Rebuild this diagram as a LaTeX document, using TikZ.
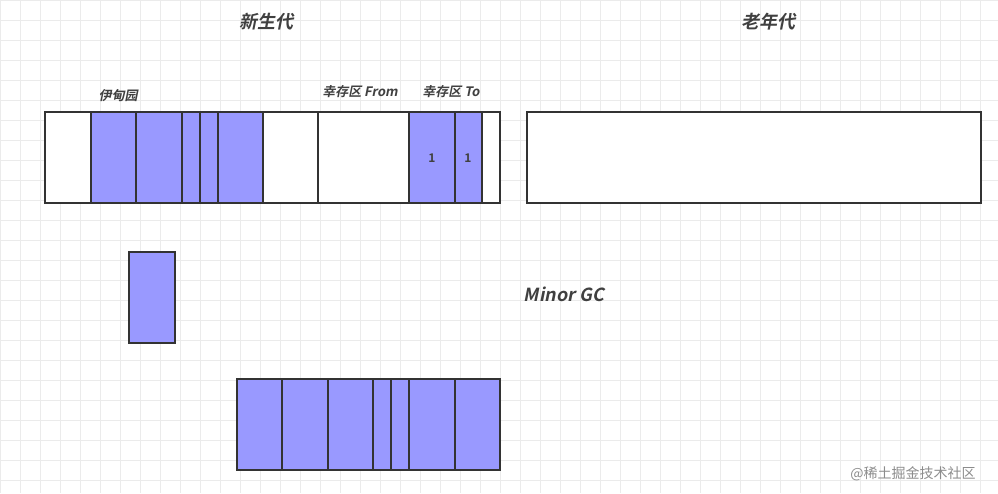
\documentclass[tikz,border=0pt]{standalone}
\usepackage{fontspec}
\setmainfont{Noto Sans CJK SC}
\newfontfamily\slb{Noto Sans CJK SC Bold}[FakeSlant=0.2]
\newfontfamily\bld{Noto Sans CJK SC Bold}
\newfontfamily\cjk{Noto Sans CJK SC}
\definecolor{blk}{HTML}{9999FF}
\definecolor{gridc}{HTML}{EBEBEB}
\definecolor{edge}{HTML}{333333}
\tikzset{cellw/.style={draw=edge,line width=1.4pt,fill=white},
 cellb/.style={draw=edge,line width=1.4pt,fill=blk},
 lab/.style={font=\slb\fontsize{13}{15}\selectfont,text=black!75},
 title/.style={font=\slb\fontsize{18}{20}\selectfont,text=black!75}}
\begin{document}
\begin{tikzpicture}[x=1pt,y=-1pt]
\useasboundingbox (0,0) rectangle (998,493);
\fill[white] (0,0) rectangle (998,493);
\foreach \i in {0,20,...,998} \draw[gridc,line width=0.5pt] (\i,0) -- (\i,493);
\foreach \j in {0,20,...,493} \draw[gridc,line width=0.5pt] (0,\j) -- (998,\j);
\node[title] (t1) at (266,22) {新生代};
\node[title] (t2) at (768,22) {老年代};
\node[lab] (l1) at (118,96) {伊甸园};
\node[lab] (l2) at (360,92) {幸存区 From};
\node[lab] (l3) at (451,92) {幸存区 To};
\node[title] (mgc) at (564,294) {Minor GC};
% top bar
\foreach \a/\b/\s in {45/91/cellw,91/136/cellb,136/182/cellb,182/200/cellb,200/218/cellb,218/263/cellb,263/318/cellw,318/409/cellw,409/455/cellb,455/482/cellb,482/500/cellw}
  \draw[\s] (\a,112) rectangle (\b,203);
\node[font=\bld\fontsize{12}{14}\selectfont,text=black!75] (n1) at (432,158) {1};
\node[font=\bld\fontsize{12}{14}\selectfont,text=black!75] (n2) at (468,158) {1};
\draw[cellw] (527,112) rectangle (981,203);
% single block
\draw[cellb] (129,252) rectangle (175,343);
% bottom bar
\foreach \a/\b in {237/282,282/328,328/373,373/391,391/409,409/455,455/500}
  \draw[cellb] (\a,379) rectangle (\b,470);
\node[font=\cjk\fontsize{14}{16}\selectfont,text=black!45] (wm) at (913,474) {@稀土掘金技术社区};
\end{tikzpicture}
\end{document}
